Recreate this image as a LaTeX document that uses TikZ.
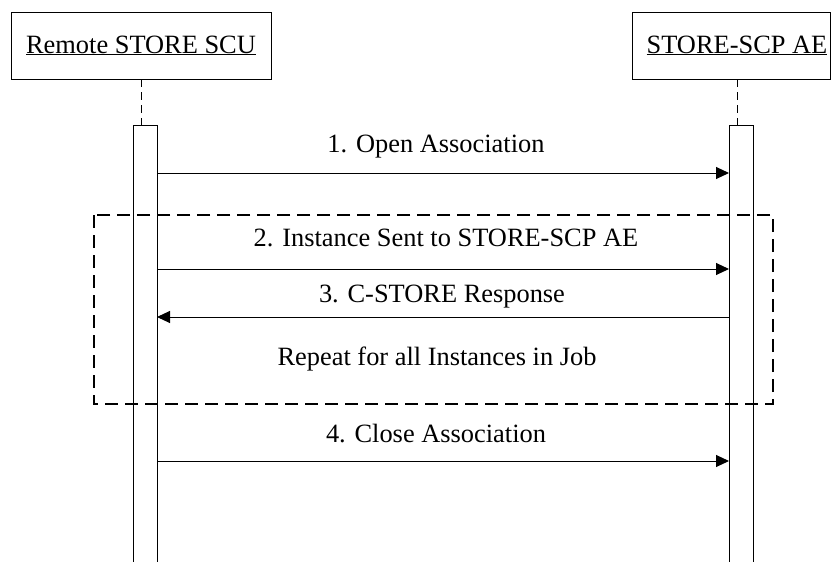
\documentclass[tikz,border=0pt]{standalone}
\usepackage{fontspec}
\setmainfont{Liberation Serif}
\usetikzlibrary{arrows.meta}
\begin{document}
\begin{tikzpicture}[x=1pt,y=-1pt,
  every node/.style={font=\fontsize{26.4}{30}\selectfont, inner sep=0pt},
  actor/.style={draw, line width=1.1pt, minimum height=67pt, anchor=north west},
  lbl/.style={anchor=base},
  life/.style={draw, line width=0.9pt, dash pattern=on 8pt off 5pt},
  bar/.style={draw, line width=1pt, fill=white},
  msg/.style={line width=1pt, -{Triangle[length=13pt,width=12pt]}},
  frame/.style={draw, line width=1.4pt, dash pattern=on 13pt off 7pt}]
\useasboundingbox (0,0) rectangle (831,562);
% actors
\node[actor, minimum width=260pt] (scu) at (11,12) {};
\node[lbl] (scut) at (141,53) {\underline{Remote STORE SCU}};
\node[actor, minimum width=198pt] (scp) at (632,12) {};
\node[lbl] (scpt) at (737,53) {\underline{STORE-SCP AE}};
% lifelines
\coordinate (lt) at (141.5,125);
\coordinate (rt) at (737.5,125);
\draw[life] (141.5,79) -- (lt);
\draw[life] (737.5,79) -- (rt);
% activation bars
\draw[bar] (133,125) rectangle (157,570);
\draw[bar] (729,125) rectangle (753,570);
% frame
\draw[frame] (94,215) rectangle (773,404);
\coordinate (a1l) at (157,173); \coordinate (a1r) at (729,173);
\coordinate (a2l) at (157,269); \coordinate (a2r) at (729,269);
\coordinate (a3l) at (157,317); \coordinate (a3r) at (729,317);
\coordinate (a4l) at (157,461); \coordinate (a4r) at (729,461);
\draw[msg] (a1l) -- (a1r);
\draw[msg] (a2l) -- (a2r);
\draw[msg] (a3r) -- (a3l);
\draw[msg] (a4l) -- (a4r);
\node[lbl] (m1) at (436,152) {1. Open Association};
\node[lbl] (m2) at (446,246) {2. Instance Sent to STORE-SCP AE};
\node[lbl] (m3) at (442,302) {3. C-STORE Response};
\node[lbl] (rep) at (437,365) {Repeat for all Instances in Job};
\node[lbl] (m4) at (436,442) {4. Close Association};
\end{tikzpicture}
\end{document}
